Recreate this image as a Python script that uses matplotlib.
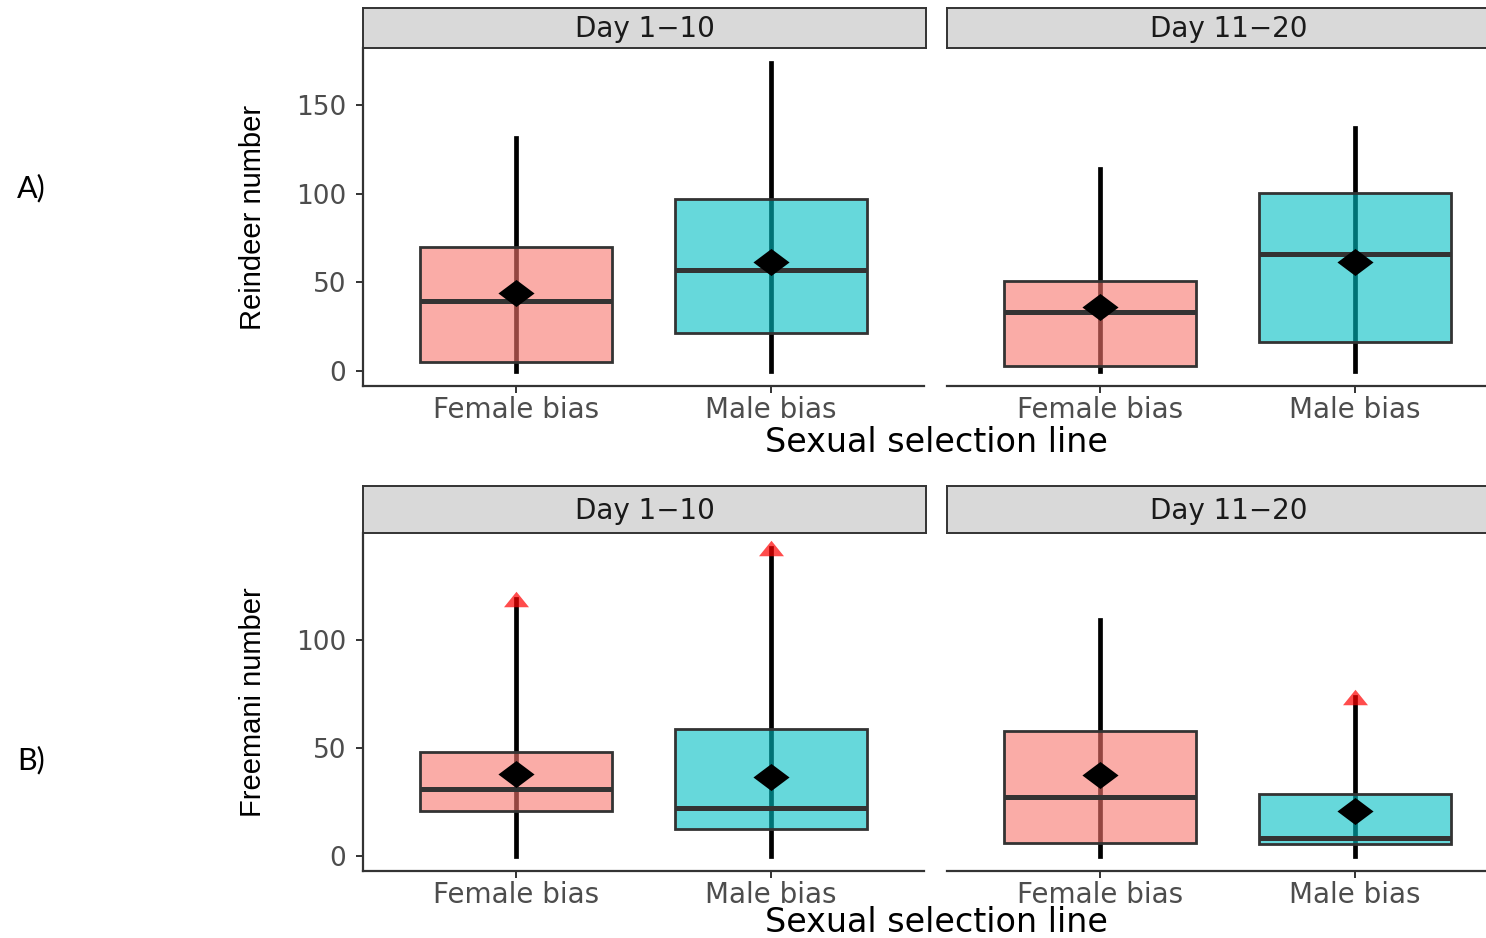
import numpy as np
import matplotlib
matplotlib.use("Agg")
import matplotlib.pyplot as plt
from matplotlib.colors import to_rgba

# categories
groups = ["Female bias", "Male bias"]
periods = ["Day 1\u221210", "Day 11\u221220"]
fills = ["#F8766D", "#00BFC4"]

# A) Reindeer number, one row per period, one value per group
rd_min = [[0.0, 0.0], [0.0, 0.0]]
rd_q1 = [[5.0, 21.1], [2.8, 16.4]]
rd_median = [[39.2, 57.0], [33.0, 65.8]]
rd_q3 = [[70.0, 96.8], [50.7, 100.3]]
rd_mean = [[43.8, 61.3], [35.9, 61.3]]
rd_max = [[131.7, 173.6], [114.2, 137.3]]
rd_flag = [[False, False], [False, False]]

# B) Freemani number
fm_min = [[0.0, 0.0], [0.0, 0.0]]
fm_q1 = [[20.8, 12.2], [5.9, 5.3]]
fm_median = [[31.0, 22.0], [27.0, 8.0]]
fm_q3 = [[48.0, 58.7], [57.9, 28.4]]
fm_mean = [[37.8, 36.5], [37.3, 20.8]]
fm_max = [[118.6, 142.2], [109.0, 73.3]]
fm_flag = [[True, True], [False, True]]

W, H = 1486, 938
DARK = "#333333"
TICK_GRAY = "#4D4D4D"

diamond = [(-1, 0), (0, 0.75), (1, 0), (0, -0.75), (-1, 0)]
triangle = [(-1, -0.62), (1, -0.62), (0, 0.62), (-1, -0.62)]

fig = plt.figure(figsize=(W / 100, H / 100), dpi=100)


def fx(px):
    return px / W


def fy(px):
    return 1 - px / H


def draw_row(top_strip, strip_bot, ax_bot, ticks, stats, ylabel, letter, letter_y,
             xlab_base):
    lo, q1, med, q3, mean, hi, flag = stats
    dmin = np.min(lo)
    dmax = np.max(hi)
    r = dmax - dmin
    ylim = (dmin - 0.05 * r, dmax + 0.05 * r)  # ggplot-style 5% expansion
    lefts = [363, 947]
    pw = 561
    for p in range(2):
        ax = fig.add_axes([fx(lefts[p]), fy(ax_bot), fx(pw), (ax_bot - strip_bot) / H])
        x = np.arange(1, 3)
        ax.vlines(x, lo[p], hi[p], color="black", lw=3.4, zorder=1,
                  capstyle="projecting")
        ax.bar(x, np.subtract(q3[p], q1[p]), bottom=q1[p], width=0.75,
               color=[to_rgba(c, 0.6) for c in fills], edgecolor=DARK,
               linewidth=2.0, zorder=2)
        ax.hlines(med[p], x - 0.375, x + 0.375, color=DARK, lw=3.6, zorder=3)
        ax.plot(x, mean[p], ls="none", marker=diamond, ms=26, color="black",
                mew=0, zorder=4)
        fl = np.array(flag[p])
        if fl.any():
            ax.plot(x[fl], np.array(hi[p])[fl], ls="none", marker=triangle, ms=18,
                    color="red", alpha=0.7, mew=0, zorder=5)
        ax.set_xlim(0.4, 2.6)
        ax.set_ylim(*ylim)
        ax.set_xticks(x)
        ax.set_xticklabels(groups)
        for s in ["top", "right"]:
            ax.spines[s].set_visible(False)
        ax.spines["bottom"].set_color(DARK)
        ax.spines["bottom"].set_linewidth(1.6)
        ax.tick_params(axis="x", length=5, width=1.4, color=DARK, pad=2,
                       labelsize=20, labelcolor=TICK_GRAY)
        if p == 0:
            ax.spines["left"].set_color(DARK)
            ax.spines["left"].set_linewidth(1.6)
            ax.set_yticks(ticks)
            ax.tick_params(axis="y", length=5, width=1.4, color=DARK, pad=7,
                           labelsize=19, labelcolor=TICK_GRAY)
        else:
            ax.spines["left"].set_visible(False)
            ax.set_yticks([])
        ax.set_facecolor("none")

        sax = fig.add_axes([fx(lefts[p]), fy(strip_bot), fx(pw + 2),
                            (strip_bot - top_strip) / H])
        sax.set_facecolor("#D9D9D9")
        sax.set_xticks([])
        sax.set_yticks([])
        for s in sax.spines.values():
            s.set_color(DARK)
            s.set_linewidth(1.4)
        sax.text(0.5, 0.47, periods[p], ha="center", va="center",
                 fontsize=20, color="#1A1A1A", transform=sax.transAxes)

    fig.text(fx(253), fy((strip_bot + ax_bot) / 2), ylabel, rotation=90,
             ha="center", va="center", fontsize=21, family="Liberation Sans")
    fig.text(fx(936), fy(xlab_base), "Sexual selection line", ha="center",
             va="baseline", fontsize=24)
    fig.text(fx(17), fy(letter_y), letter, ha="left", va="center",
             fontsize=22, family="Lato")


draw_row(8, 48, 386, [0, 50, 100, 150],
         (rd_min, rd_q1, rd_median, rd_q3, rd_mean, rd_max, rd_flag),
         "Reindeer number", "A)", 188, 452)
draw_row(486, 533, 871, [0, 50, 100],
         (fm_min, fm_q1, fm_median, fm_q3, fm_mean, fm_max, fm_flag),
         "Freemani number", "B)", 760, 932)

fig.savefig("out.png", dpi=100)
